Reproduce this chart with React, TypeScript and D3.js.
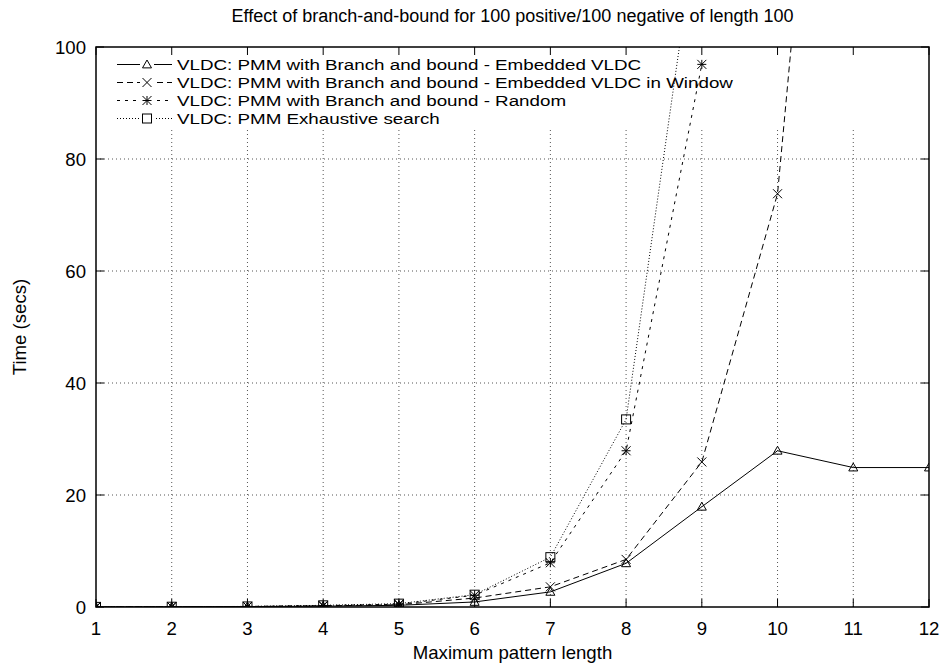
import React from "react";
import * as d3 from "d3";

const WIDTH = 945;
const HEIGHT = 665;
const MARGIN = { top: 47, right: 16, bottom: 58, left: 96 };

const TITLE = "Effect of branch-and-bound for 100 positive/100 negative of length 100";
const X_LABEL = "Maximum pattern length";
const Y_LABEL = "Time (secs)";

const xTicks = [1, 2, 3, 4, 5, 6, 7, 8, 9, 10, 11, 12];
const yTicks = [0, 20, 40, 60, 80, 100];

// Run times (seconds) per maximum pattern length
const lengthsEmbedded = [1, 2, 3, 4, 5, 6, 7, 8, 9, 10, 11, 12];
const timesEmbedded = [0.02, 0.05, 0.08, 0.15, 0.3, 0.9, 2.7, 7.8, 17.9, 27.9, 24.9, 24.9];

const lengthsWindow = [1, 2, 3, 4, 5, 6, 7, 8, 9, 10, 11];
const timesWindow = [0.02, 0.05, 0.08, 0.2, 0.4, 1.6, 3.6, 8.5, 25.9, 73.8, 220];

const lengthsRandom = [1, 2, 3, 4, 5, 6, 7, 8, 9];
const timesRandom = [0.02, 0.05, 0.1, 0.25, 0.5, 2.1, 7.9, 27.9, 96.9];

const lengthsExhaustive = [1, 2, 3, 4, 5, 6, 7, 8, 9];
const timesExhaustive = [0.02, 0.05, 0.1, 0.3, 0.6, 2.2, 8.9, 33.5, 128];

type Marker = "triangle" | "cross" | "star" | "square";

interface Series {
  name: string;
  xs: number[];
  ys: number[];
  dash: string;
  marker: Marker;
}

const series: Series[] = [
  { name: "VLDC: PMM with Branch and bound - Embedded VLDC", xs: lengthsEmbedded, ys: timesEmbedded, dash: "none", marker: "triangle" },
  { name: "VLDC: PMM with Branch and bound - Embedded VLDC in Window", xs: lengthsWindow, ys: timesWindow, dash: "6,4", marker: "cross" },
  { name: "VLDC: PMM with Branch and bound - Random", xs: lengthsRandom, ys: timesRandom, dash: "3,5", marker: "star" },
  { name: "VLDC: PMM Exhaustive search", xs: lengthsExhaustive, ys: timesExhaustive, dash: "1,2", marker: "square" },
];

const FONT = "'Liberation Sans', Arial, Helvetica, sans-serif";

function MarkerShape({ kind, x, y }: { kind: Marker; x: number; y: number }) {
  const r = 4.5;
  const common = { fill: "none", stroke: "#000", strokeWidth: 1 };
  if (kind === "triangle") {
    return <path d={`M${x},${y - r} L${x + r},${y + r * 0.75} L${x - r},${y + r * 0.75} Z`} {...common} />;
  }
  if (kind === "cross") {
    return <path d={`M${x - r},${y - r} L${x + r},${y + r} M${x - r},${y + r} L${x + r},${y - r}`} {...common} />;
  }
  if (kind === "star") {
    return (
      <path
        d={`M${x - r},${y - r} L${x + r},${y + r} M${x - r},${y + r} L${x + r},${y - r} M${x},${y - r} L${x},${y + r} M${x - r},${y} L${x + r},${y}`}
        {...common}
      />
    );
  }
  return <rect x={x - r} y={y - r} width={2 * r} height={2 * r} {...common} />;
}

export default function App() {
  const innerW = WIDTH - MARGIN.left - MARGIN.right;
  const innerH = HEIGHT - MARGIN.top - MARGIN.bottom;
  const x = d3.scaleLinear().domain([1, 12]).range([MARGIN.left, MARGIN.left + innerW]);
  const y = d3.scaleLinear().domain([0, 100]).range([MARGIN.top + innerH, MARGIN.top]);
  const x0 = x(1), x1 = x(12), y0 = y(0), y1 = y(100);

  const legendRowY = [64.5, 82.5, 100.5, 118.5];
  const legendBottom = 128;
  const tick = 8;

  const line = d3
    .line<[number, number]>()
    .x((d) => x(d[0]))
    .y((d) => y(d[1]));

  return (
    <svg
      width={WIDTH}
      height={HEIGHT}
      style={{ position: "absolute", left: 0, top: 0, background: "#fff" }}
      fontFamily={FONT}
    >
      <defs>
        <clipPath id="plot-clip">
          <rect x={x0} y={y1} width={x1 - x0} height={y0 - y1} />
        </clipPath>
      </defs>
      <rect width={WIDTH} height={HEIGHT} fill="#fff" />

      {/* grid */}
      <g stroke="#555" strokeWidth={1} strokeDasharray="1,3">
        {xTicks.slice(1, -1).map((t) => (
          <line key={`gx${t}`} x1={x(t)} x2={x(t)} y1={y0} y2={legendBottom} />
        ))}
        {yTicks.slice(1, -1).map((t) => (
          <line key={`gy${t}`} x1={x0} x2={x1} y1={y(t)} y2={y(t)} />
        ))}
      </g>

      {/* ticks */}
      <g stroke="#000" strokeWidth={1}>
        {xTicks.map((t) => (
          <g key={`tx${t}`}>
            <line x1={x(t)} x2={x(t)} y1={y0} y2={y0 - tick} />
            <line x1={x(t)} x2={x(t)} y1={y1} y2={y1 + tick} />
          </g>
        ))}
        {yTicks.map((t) => (
          <g key={`ty${t}`}>
            <line x1={x0} x2={x0 + tick} y1={y(t)} y2={y(t)} />
            <line x1={x1} x2={x1 - tick} y1={y(t)} y2={y(t)} />
          </g>
        ))}
      </g>

      {/* series */}
      <g clipPath="url(#plot-clip)">
        {series.map((s) => {
          const pts: [number, number][] = s.xs.map((v, i) => [v, s.ys[i]]);
          return (
            <g key={s.name}>
              <path
                d={line(pts) ?? ""}
                fill="none"
                stroke="#000"
                strokeWidth={1}
                strokeDasharray={s.dash}
              />
              {pts
                .filter((p) => p[1] <= 100)
                .map((p, i) => (
                  <MarkerShape key={i} kind={s.marker} x={x(p[0])} y={y(p[1])} />
                ))}
            </g>
          );
        })}
      </g>

      {/* frame */}
      <rect x={x0} y={y1} width={x1 - x0} height={y0 - y1} fill="none" stroke="#000" strokeWidth={1.5} />

      {/* tick labels */}
      <g fontSize={18.6} fill="#000">
        {xTicks.map((t) => (
          <text key={`lx${t}`} x={x(t)} y={y0 + 28} textAnchor="middle">
            {t}
          </text>
        ))}
        {yTicks.map((t) => (
          <text key={`ly${t}`} x={x0 - 10} y={y(t) + 7} textAnchor="end">
            {t}
          </text>
        ))}
      </g>

      {/* legend */}
      <g fontSize={15.4} fill="#000">
        {series.map((s, i) => {
          const ly = legendRowY[i];
          return (
            <g key={`lg${i}`}>
              <line x1={117} x2={172} y1={ly} y2={ly} stroke="#000" strokeWidth={1} strokeDasharray={s.dash} />
              <rect x={140} y={ly - 6} width={14} height={12} fill="#fff" />
              <MarkerShape kind={s.marker} x={147} y={ly} />
              <text transform={`translate(177, ${ly + 5.5}) scale(1.22, 1)`}>{s.name}</text>
            </g>
          );
        })}
      </g>

      {/* titles */}
      <text x={(x0 + x1) / 2} y={22} textAnchor="middle" fontSize={18}>
        {TITLE}
      </text>
      <text x={(x0 + x1) / 2} y={659} textAnchor="middle" fontSize={18.6}>
        {X_LABEL}
      </text>
      <text transform={`translate(26, ${(y0 + y1) / 2}) rotate(-90)`} textAnchor="middle" fontSize={18.6}>
        {Y_LABEL}
      </text>
    </svg>
  );
}
